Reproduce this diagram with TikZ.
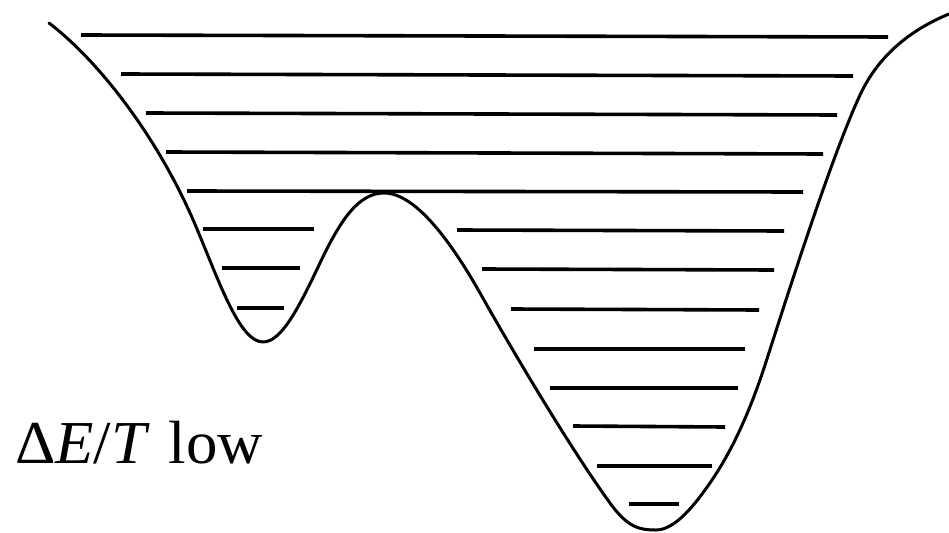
\documentclass[tikz,border=0pt]{standalone}
\usepackage{fontspec}
\setmainfont{Liberation Serif}
\begin{document}
\begin{tikzpicture}[x=1pt,y=-1pt,
  well/.style={line width=3pt,line join=round,line cap=round},
  level/.style={line width=3.6pt}]
\useasboundingbox (0,0) rectangle (949,532);
% potential curve
\draw[well] (49,23)
  .. controls (100,62) and (160,140) .. (197,229)
  .. controls (220,284) and (240,342) .. (263,342)
  .. controls (282,342) and (300,305) .. (320,263)
  .. controls (340,221) and (358,193) .. (384,193)
  .. controls (415,193) and (450,240) .. (480,293)
  .. controls (520,364) and (575,455) .. (610,503)
  .. controls (628,528) and (640,530) .. (656,530)
  .. controls (675,530) and (695,505) .. (712,480)
  .. controls (735,446) and (752,405) .. (765,365)
  .. controls (785,303) and (830,160) .. (860,95)
  .. controls (880,52) and (915,28) .. (949,14);
% energy levels, common upper levels
\draw[level] (81,35) coordinate (a1) -- (888,37) coordinate (b1);
\draw[level] (121,74) coordinate (a2) -- (853,76) coordinate (b2);
\draw[level] (146,113) coordinate (a3) -- (837,115) coordinate (b3);
\draw[level] (166,152) coordinate (a4) -- (823,154) coordinate (b4);
\draw[level] (187,191) coordinate (a5) -- (803,192) coordinate (b5);
% left well levels
\draw[level] (203,229) coordinate (l1) -- (314,229) coordinate (m1);
\draw[level] (222,268) coordinate (l2) -- (300,268) coordinate (m2);
\draw[level] (237,308) coordinate (l3) -- (284,308) coordinate (m3);
% right well levels
\draw[level] (457,230) coordinate (r1) -- (784,231) coordinate (s1);
\draw[level] (482,269) coordinate (r2) -- (774,270) coordinate (s2);
\draw[level] (511,309) coordinate (r3) -- (759,310) coordinate (s3);
\draw[level] (534,349) coordinate (r4) -- (745,349) coordinate (s4);
\draw[level] (550,388) coordinate (r5) -- (738,388) coordinate (s5);
\draw[level] (573,426) coordinate (r6) -- (725,427) coordinate (s6);
\draw[level] (597,466) coordinate (r7) -- (712,466) coordinate (s7);
\draw[level] (629,504) coordinate (r8) -- (679,504) coordinate (s8);
% label
\node[anchor=base west,inner sep=0pt,font=\fontsize{61}{66}\selectfont] (lbl) at (15,463)
  {\scalebox{1.03}[1]{Δ\textit{E}/\textit{T}\hspace{0.05em} low}};
\end{tikzpicture}
\end{document}
